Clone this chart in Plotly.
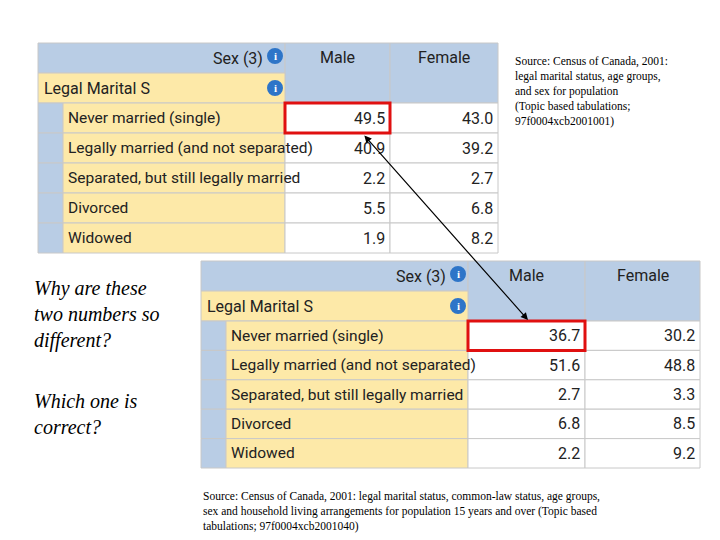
import plotly.graph_objects as go

categories = ["Never married (single)", "Legally married (and not separated)",
              "Separated, but still legally married", "Divorced", "Widowed"]
male_2001001 = [49.5, 40.9, 2.2, 5.5, 1.9]
female_2001001 = [43.0, 39.2, 2.7, 6.8, 8.2]
male_2001040 = [36.7, 51.6, 2.7, 6.8, 2.2]
female_2001040 = [30.2, 48.8, 3.3, 8.5, 9.2]
col_labels = ["Male", "Female"]

BLUE = "#b9cde5"
YEL = "#fde9a8"
TF = "Liberation Sans Narrow, Arial Narrow, Roboto, sans-serif"

fig = go.Figure()
shapes, ann = [], []

def rect(x0, y0, x1, y1, fill, line="#c8c8c8", w=1):
    shapes.append(dict(type="rect", x0=x0, y0=y0, x1=x1, y1=y1, fillcolor=fill,
                       line=dict(color=line, width=w), layer="below"))

def txt(x, y, s, anchor="left", size=16, font=TF, color="#222", italic=False):
    ann.append(dict(x=x, y=y, text=s, showarrow=False, xanchor=anchor, yanchor="middle",
                    align="left",
                    font=dict(family=font, size=size, color=color,
                              style="italic" if italic else "normal")))

def icon(x, y):
    shapes.append(dict(type="circle", x0=x-7, y0=y-7, x1=x+7, y1=y+7,
                       fillcolor="#2e75c8", line=dict(color="#2e75c8")))
    txt(x, y, "<b>i</b>", "center", 11, "Liberation Serif", "white")

def table(x0, xl, xm, xf, x1, ytop, hh, rh, males, females):
    rect(x0, ytop, xl, ytop + hh, BLUE)
    txt(xl - 20, ytop + hh/2, "Sex (3)", "right")
    icon(xl - 10, ytop + hh/2 - 2)
    rect(xl, ytop, xm, ytop + 2*hh, BLUE)
    rect(xm, ytop, x1, ytop + 2*hh, BLUE)
    txt((xl+xm)/2, ytop + 14, col_labels[0], "center")
    txt((xm+x1)/2, ytop + 14, col_labels[1], "center")
    rect(x0, ytop + hh, xl, ytop + 2*hh, YEL)
    txt(x0 + 4, ytop + hh*1.5, "Legal Marital S", "left")
    icon(xl - 10, ytop + hh*1.5)
    y = ytop + 2*hh
    for i, c in enumerate(categories):
        rect(x0, y, x0 + 25, y + rh, BLUE)
        rect(x0 + 25, y, xl, y + rh, YEL)
        rect(xl, y, xm, y + rh, "white")
        rect(xm, y, x1, y + rh, "white")
        txt(x0 + 28, y + rh/2, c, size=15.5)
        txt(xm - 3, y + rh/2, f"{males[i]:.1f}", "right")
        txt(x1 - 3, y + rh/2, f"{females[i]:.1f}", "right")
        y += rh
    shapes.append(dict(type="rect", x0=xl, y0=ytop + 2*hh, x1=xm, y1=ytop + 2*hh + rh,
                       line=dict(color="#e01010", width=3)))

table(30, 277, 382, 490, 490, 35, 30, 30, male_2001001, female_2001001)
table(193, 460, 577, 692, 692, 253, 30, 29.4, male_2001040, female_2001040)

ann.append(dict(x=520, y=312, ax=355, ay=126, xref="x", yref="y", axref="x", ayref="y",
                showarrow=True, arrowhead=2, arrowside="end+start", arrowsize=1.2,
                arrowwidth=1.2, arrowcolor="black", text=""))

txt(24, 306, "Why are these<br>two numbers so<br>different?", "left", 20,
    "Liberation Serif", "black", True)
txt(24, 406, "Which one is<br>correct?", "left", 20, "Liberation Serif", "black", True)
txt(505, 83, "Source: Census of Canada, 2001:<br>legal marital status, age groups,<br>"
    "and sex for population<br>(Topic based tabulations;<br>97f0004xcb2001001)",
    "left", 11.5, "Liberation Serif", "black")
txt(193, 503, "Source: Census of Canada, 2001: legal marital status, common-law status, age groups,<br>"
    "sex and household living arrangements for population 15 years and over (Topic based<br>"
    "tabulations; 97f0004xcb2001040)", "left", 11.5, "Liberation Serif", "black")

fig.update_layout(width=720, height=540, margin=dict(l=0, r=0, t=0, b=0),
                  plot_bgcolor="white", paper_bgcolor="white", shapes=shapes, annotations=ann,
                  xaxis=dict(range=[0, 720], visible=False, fixedrange=True),
                  yaxis=dict(range=[540, 0], visible=False, fixedrange=True),
                  showlegend=False)
fig.write_html("out.html")
